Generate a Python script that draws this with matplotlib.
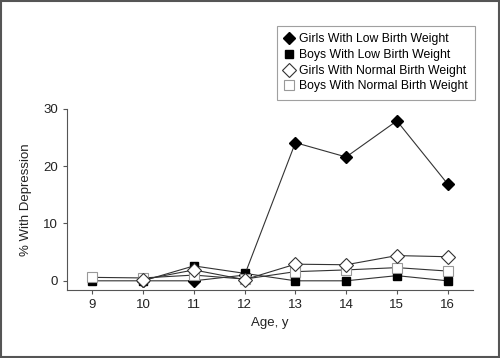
import matplotlib.pyplot as plt
from matplotlib.patches import Rectangle

plt.rcParams['font.family'] = ['Liberation Sans Narrow', 'Liberation Sans', 'DejaVu Sans']

ages = [9, 10, 11, 12, 13, 14, 15, 16]
girls_ages = [10, 11, 12, 13, 14, 15, 16]

girls_low = [0.0, 0.0, 1.0, 24.1, 21.6, 27.9, 16.9]
boys_low = [0.0, 0.0, 2.6, 1.3, 0.0, 0.0, 0.9, 0.0]
girls_normal = [0.2, 1.9, 0.2, 2.9, 2.8, 4.4, 4.2]
boys_normal = [0.6, 0.5, 1.0, 0.3, 1.6, 1.9, 2.3, 1.7]

labels = ['Girls With Low Birth Weight', 'Boys With Low Birth Weight',
          'Girls With Normal Birth Weight', 'Boys With Normal Birth Weight']

fig = plt.figure(figsize=(5, 3.58), dpi=100)
ax = fig.add_axes([0.134, 0.19, 0.812, 0.506])

line_kw = dict(color='#333333', linewidth=0.8)
# drawing order matches the reference overlaps
h_bl, = ax.plot(ages, boys_low, marker='s', markersize=6, markerfacecolor='black',
                markeredgecolor='black', label=labels[1], **line_kw)
h_gl, = ax.plot(girls_ages, girls_low, marker='D', markersize=6.5, markerfacecolor='black',
                markeredgecolor='black', label=labels[0], **line_kw)
h_bn, = ax.plot(ages, boys_normal, marker='s', markersize=6.5, markerfacecolor='white',
                markeredgecolor='#999999', markeredgewidth=0.8, label=labels[3], **line_kw)
h_gn, = ax.plot(girls_ages, girls_normal, marker='D', markersize=7, markerfacecolor='white',
                markeredgecolor='#333333', markeredgewidth=0.8, label=labels[2], **line_kw)

ax.set_xlim(8.5, 16.5)
ax.set_ylim(-1.6, 30)
ax.set_xticks(ages)
ax.set_yticks([0, 10, 20, 30])
ax.spines['top'].set_visible(False)
ax.spines['right'].set_visible(False)
for s in ['left', 'bottom']:
    ax.spines[s].set_color('#555555')
    ax.spines[s].set_linewidth(0.8)
ax.tick_params(colors='#555555', labelcolor='#222222', labelsize=9.5, width=0.8, length=3)
ax.set_xlabel('Age, y', fontsize=9.5, color='#222222', labelpad=4)
ax.set_ylabel('% With Depression', fontsize=9.5, color='#222222', labelpad=8)

leg = fig.legend([h_gl, h_bl, h_gn, h_bn], labels,
                 loc='upper right', bbox_to_anchor=(0.95, 0.927),
                 fontsize=8.8, frameon=True, fancybox=False, handlelength=0.8,
                 handletextpad=0.4, labelspacing=0.3, borderpad=0.6,
                 borderaxespad=0)
leg.get_frame().set_edgecolor('#888888')
leg.get_frame().set_linewidth(0.8)
for h in leg.legend_handles:
    h.set_linestyle('None')

fig.patches.append(Rectangle((0.002, 0.003), 0.996, 0.994, transform=fig.transFigure,
                             fill=False, edgecolor='#555555', linewidth=1.5))

fig.savefig('out.png', dpi=100)
